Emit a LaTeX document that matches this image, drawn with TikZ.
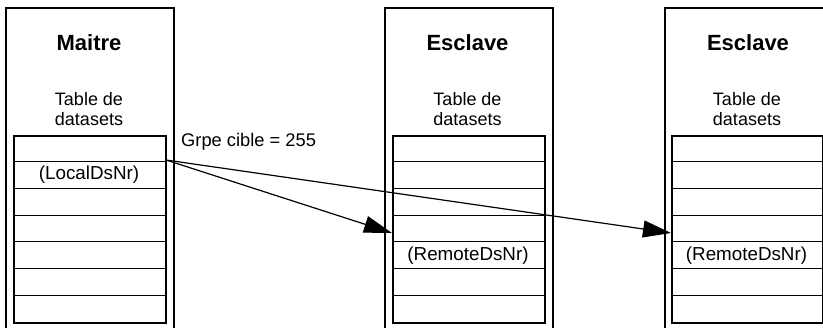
\documentclass[tikz,border=0pt]{standalone}
\usepackage{fontspec}
\setmainfont{Liberation Sans}
\usetikzlibrary{arrows.meta}
\begin{document}
\begin{tikzpicture}[x=1pt,y=-1pt,
 outerbox/.style={draw, line width=2pt, minimum width=168pt, minimum height=340pt, inner sep=0pt, anchor=north west},
 tbl/.style={draw, line width=2pt, minimum width=152pt, minimum height=187pt, inner sep=0pt, anchor=north west},
 rowline/.style={line width=1pt},
 title/.style={font=\fontsize{22}{26}\selectfont\bfseries, anchor=base, inner sep=0pt},
 lbl/.style={font=\fontsize{18}{20}\selectfont, align=center, anchor=north, inner sep=0pt},
 cell/.style={font=\fontsize{18.8}{20}\selectfont, inner sep=0pt},
 grp/.style={font=\fontsize{18.3}{20}\selectfont, anchor=base west, inner sep=0pt},
 arr/.style={line width=1.2pt, -{Triangle[length=28pt,width=17pt]}}
]
\useasboundingbox (0,0) rectangle (823,328);
\clip (0,0) rectangle (823,328);

% outer boxes
\node[outerbox] (bm) at (5,7) {};
\node[outerbox] (be1) at (384,7) {};
\node[outerbox] (be2) at (664,7) {};

% titles
\node[title] (tm) at (89,51) {Maitre};
\node[title] (te1) at (467.5,51) {Esclave};
\node[title] (te2) at (748,51) {Esclave};

% table captions
\node[lbl] (cm) at (89,92) {Table de\\datasets};
\node[lbl] (ce1) at (467.5,92) {Table de\\datasets};
\node[lbl] (ce2) at (747,92) {Table de\\datasets};

% tables
\node[tbl] (m) at (13,135) {};
\node[tbl] (e1) at (392,135) {};
\node[tbl, minimum width=151pt] (e2) at (671,135) {};
\foreach \i in {1,...,6} {
  \draw[rowline] (13,135+\i*26.71) -- (165,135+\i*26.71);
  \draw[rowline] (392,135+\i*26.71) -- (544,135+\i*26.71);
  \draw[rowline] (671,135+\i*26.71) -- (822,135+\i*26.71);
}

% cell labels
\node[cell] (lm) at (89,175.1) {(LocalDsNr)};
\node[cell] (r1) at (468,255.2) {(RemoteDsNr)};
\node[cell] (r2) at (746.5,255.2) {(RemoteDsNr)};

% group label
\node[grp] (g) at (181,147) {Grpe cible = 255};

% arrows
\coordinate (src) at (166,160);
\coordinate (tip1) at (392,233);
\coordinate (tip2) at (671,233);
\draw[arr] (src) -- (tip1);
\draw[arr] (src) -- (tip2);
\end{tikzpicture}
\end{document}
